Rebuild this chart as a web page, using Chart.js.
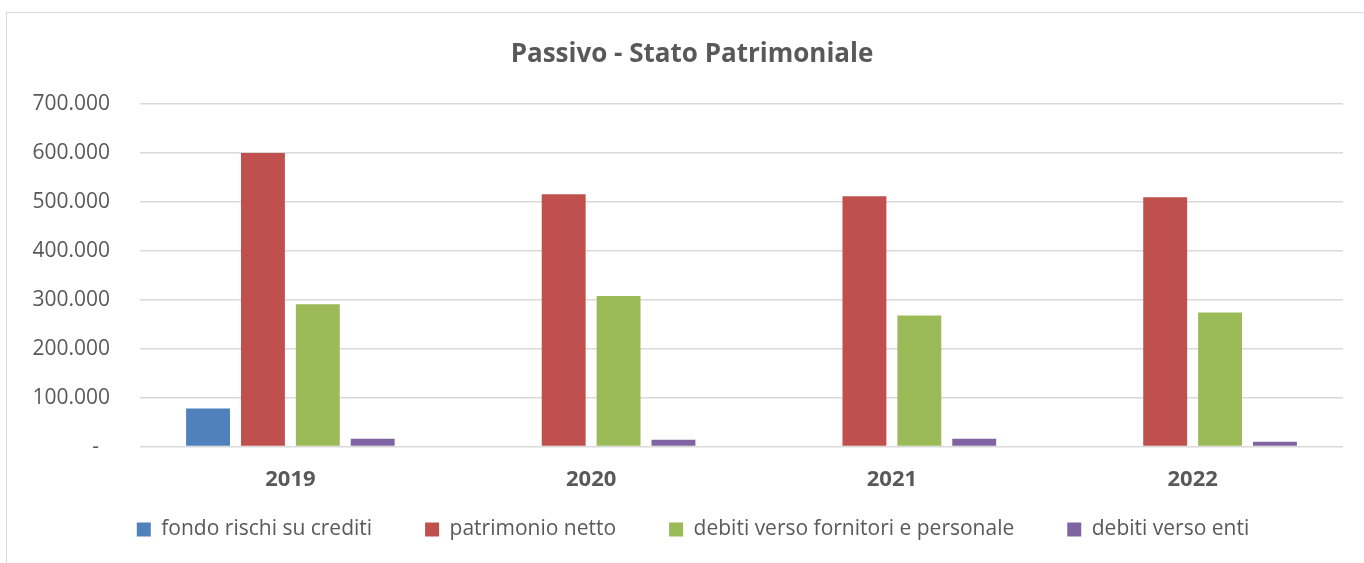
<!DOCTYPE html>
<html lang="it">
<head>
<meta charset="utf-8">
<title>Passivo - Stato Patrimoniale</title>
<script src="https://cdn.jsdelivr.net/npm/chart.js@4/dist/chart.umd.min.js"></script>
<style>
    html, body { margin: 0; padding: 0; background: #fff; }
    #frame {
        position: absolute; left: 6px; top: 12px;
        width: 1400px; height: 600px;
        border: 1px solid #d9d9d9;
    }
    #chartBox { position: absolute; left: 0; top: 0; }
</style>
</head>
<body>
<div id="frame"></div>
<div id="chartBox"><canvas id="passivoChart" width="1364" height="563"></canvas></div>
<script>
// dati
const anni = ["2019", "2020", "2021", "2022"];
const fondoRischi = [78000, 0, 0, 0];
const patrimonioNetto = [600000, 516000, 512000, 510000];
const debitiFornitori = [291000, 308000, 268000, 274000];
const debitiEnti = [16000, 14000, 16000, 10000];
const yTicks = [0, 100000, 200000, 300000, 400000, 500000, 600000, 700000];

const testo = "#595959";
const font = "'Open Sans', 'Noto Sans', sans-serif";
const padSinistra = 25;

// formato italiano: 700.000, zero come "-"
function formatta(v) {
    if (v === 0) return "-  ";
    return v.toString().replace(/\B(?=(\d{3})+(?!\d))/g, ".");
}

// titolo e legenda centrati sulla cornice, legenda subito sotto gli anni
const spostaBlocchi = {
    id: 'spostaBlocchi',
    afterLayout(chart) {
        const dx = 9;
        const t = chart.titleBlock;
        t.left += dx - 1; t.right += dx - 1;
        const l = chart.legend;
        l.left += dx; l.right += dx;
        l.top = 466; l.bottom = 563; l.height = 97;
    }
};

const ctx = document.getElementById('passivoChart').getContext('2d');
new Chart(ctx, {
    type: 'bar',
    data: {
        labels: anni,
        datasets: [
            { label: "fondo rischi su crediti", data: fondoRischi, backgroundColor: "#4F81BD" },
            { label: "patrimonio netto", data: patrimonioNetto, backgroundColor: "#C0504D" },
            { label: "debiti verso fornitori e personale", data: debitiFornitori, backgroundColor: "#9BBB59" },
            { label: "debiti verso enti", data: debitiEnti, backgroundColor: "#8064A2" }
        ]
    },
    options: {
        responsive: false,
        animation: false,
        categoryPercentage: 0.73,
        barPercentage: 0.8,
        layout: { padding: { left: padSinistra, right: 21, top: 0, bottom: 10 } },
        plugins: {
            title: {
                display: true,
                text: "Passivo - Stato Patrimoniale",
                color: testo,
                font: { family: font, size: 26, weight: 'bold' },
                padding: { top: 39, bottom: 34 }
            },
            legend: {
                position: 'bottom',
                maxHeight: 40,
                labels: {
                    color: testo,
                    font: { family: font, size: 21 },
                    boxWidth: 14,
                    boxHeight: 14,
                    padding: 53
                }
            },
            tooltip: { enabled: false }
        },
        scales: {
            y: {
                min: 0,
                max: 700000,
                afterBuildTicks: function (scale) {
                    scale.ticks = yTicks.map(v => ({ value: v }));
                },
                afterFit: function (scale) { scale.width = 140 - padSinistra; },
                ticks: {
                    color: testo,
                    padding: 30,
                    font: { family: font, size: 21 },
                    callback: function (value) { return formatta(value); }
                },
                grid: { color: "#d9d9d9", lineWidth: 1.5, drawTicks: false },
                border: { display: false }
            },
            x: {
                ticks: {
                    color: testo,
                    padding: 20,
                    font: { family: font, size: 22, weight: 'bold' }
                },
                grid: { display: false, drawTicks: false },
                border: { display: false }
            }
        }
    },
    plugins: [spostaBlocchi]
});
</script>
</body>
</html>
